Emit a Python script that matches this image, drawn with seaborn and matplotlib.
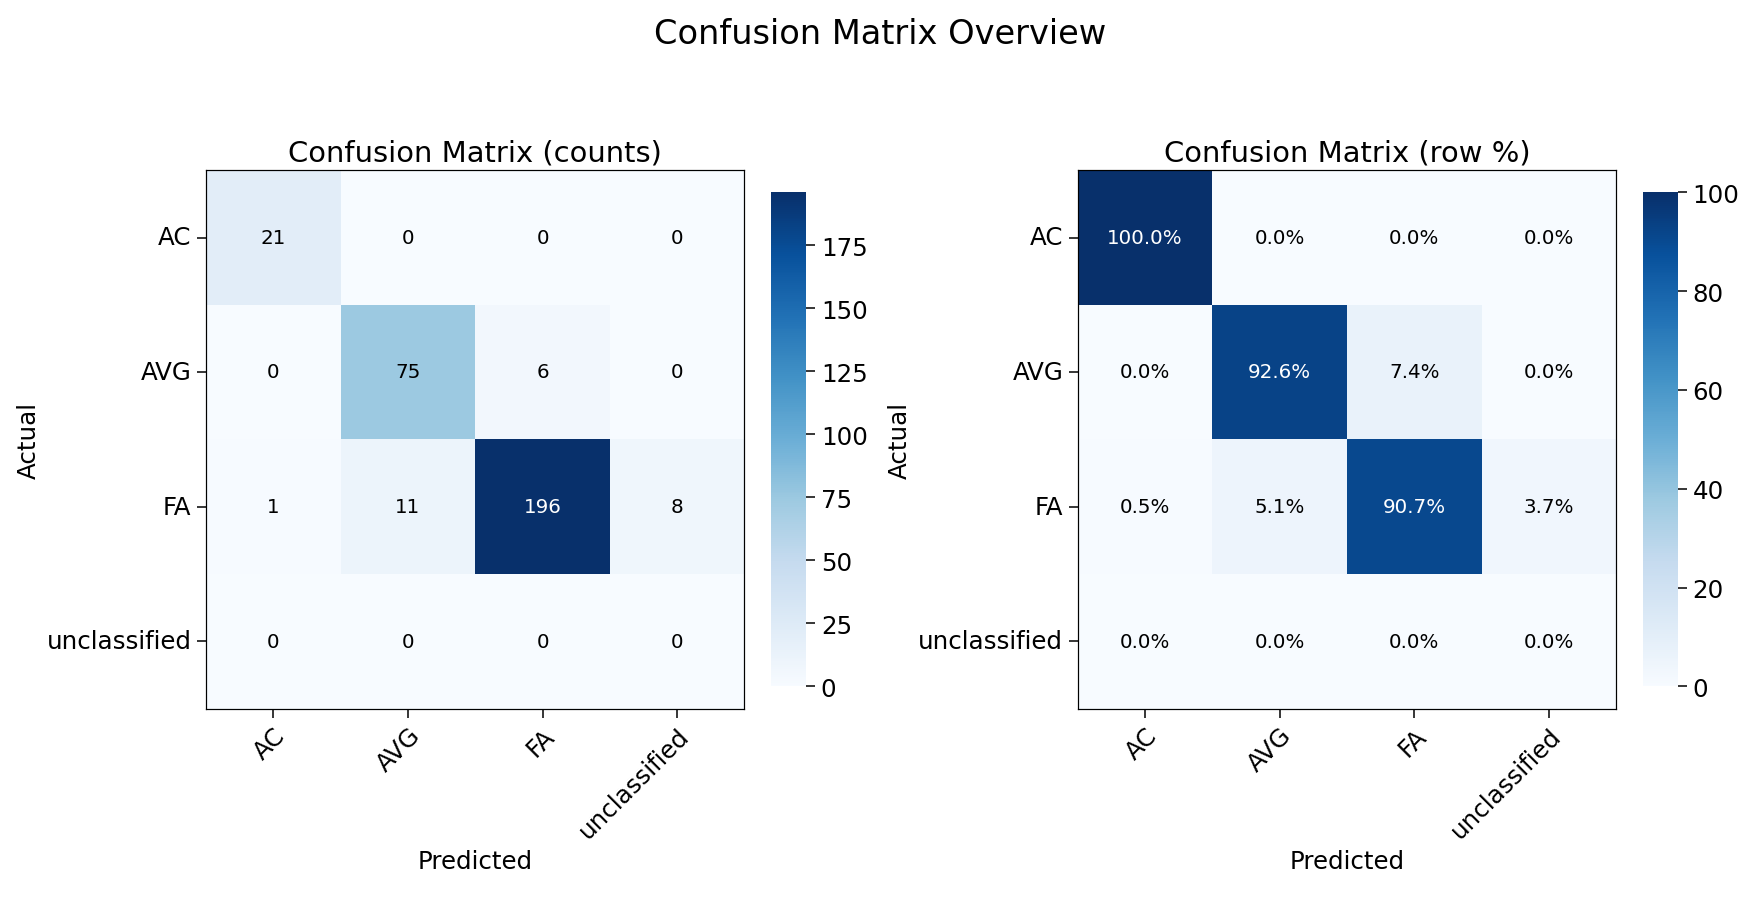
import numpy as np
import seaborn as sns
import matplotlib
matplotlib.use("Agg")
import matplotlib.pyplot as plt

labels = ["AC", "AVG", "FA", "unclassified"]
counts = np.array([
    [21, 0, 0, 0],
    [0, 75, 6, 0],
    [1, 11, 196, 8],
    [0, 0, 0, 0],
])

row_sums = counts.sum(axis=1, keepdims=True)
pct = np.divide(counts * 100.0, row_sums, out=np.zeros(counts.shape), where=row_sums > 0)

fig, axes = plt.subplots(1, 2, figsize=(16, 8.18), dpi=110)


def draw(ax, mat, fmt, title):
    sns.heatmap(mat, ax=ax, cmap="Blues", square=True, cbar=True,
                cbar_kws={"shrink": 0.66, "aspect": 14, "pad": 0.04},
                xticklabels=labels, yticklabels=labels,
                vmin=0, vmax=mat.max())
    vmax = mat.max()
    for i in range(mat.shape[0]):
        for j in range(mat.shape[1]):
            v = mat[i, j]
            ax.text(j + 0.5, i + 0.5, fmt(v), ha="center", va="center",
                    fontsize=13, color="white" if v > vmax / 2 else "black")
    for s in ax.spines.values():
        s.set_visible(True)
        s.set_color("black")
    cb = ax.collections[0].colorbar
    cb.outline.set_visible(True)
    cb.outline.set_edgecolor("black")
    cb.ax.tick_params(labelsize=16, length=6, width=1)
    ax.tick_params(axis="both", length=6, width=1, labelsize=16, bottom=True, left=True)
    ax.set_xticklabels(labels, rotation=45, ha="right", rotation_mode="anchor")
    ax.set_yticklabels(labels, rotation=0)
    ax.set_title(title, fontsize=19)
    ax.set_xlabel("Predicted", fontsize=16)
    ax.set_ylabel("Actual", fontsize=16)


draw(axes[0], counts, lambda v: f"{int(v)}", "Confusion Matrix (counts)")
draw(axes[1], pct, lambda v: f"{v:.1f}%", "Confusion Matrix (row %)")

fig.suptitle("Confusion Matrix Overview", fontsize=22)
plt.tight_layout()
fig.savefig("out.png")
